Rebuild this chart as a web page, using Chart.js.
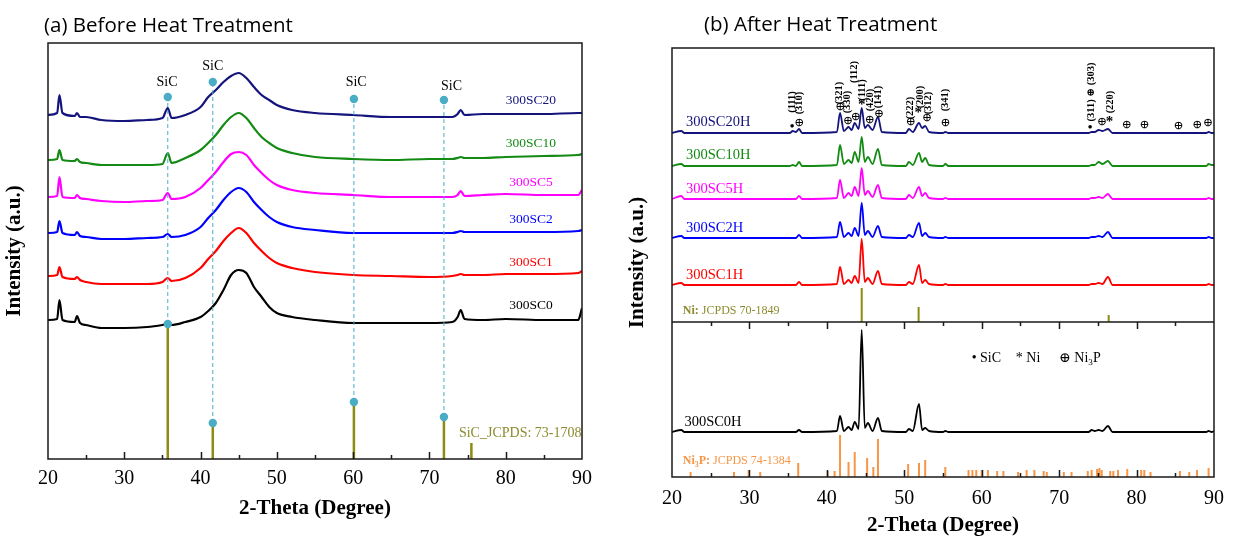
<!DOCTYPE html>
<html>
<head>
<meta charset="utf-8">
<script src="https://cdn.jsdelivr.net/npm/chart.js@4.4.1/dist/chart.umd.min.js"></script>
<style>
  html, body { margin: 0; padding: 0; background: #fff; }
  body { width: 1234px; height: 544px; position: relative; overflow: hidden; }
  canvas { position: absolute; top: 0; }
  #leftChart { left: 0; }
  #rightChart { left: 620px; }
  .title { position: absolute; font-family: "Open Sans", sans-serif; font-size: 20.5px; color: #000; white-space: nowrap; z-index: 2; }
</style>
</head>
<body>
<div class="title" style="left:44px; top:10px;">(a) Before Heat Treatment</div>
<div class="title" style="left:704px; top:9px;">(b) After Heat Treatment</div>
<canvas id="leftChart" width="620" height="544"></canvas>
<canvas id="rightChart" width="614" height="544"></canvas>
<script>
// ============================================================================
// DATA - panel (a), before heat treatment (arbitrary intensity, offset stack)
// ============================================================================

const thetaA = [20, 21.2, 21.5, 21.9, 23.5, 23.8, 24.2, 25, 27, 30, 33, 35, 35.7, 36.2, 38, 40, 41, 42, 43, 44,
                45, 46, 47, 48, 49, 50, 52, 55, 60, 65, 70, 73, 73.7, 74.1, 74.6, 77, 80, 85, 89.5, 90];
const sc0  = [139, 140, 159, 139, 137, 143, 136, 134, 131, 131, 132, 134, 135, 134, 137, 142, 148, 156, 169, 184,
              189, 186, 172, 162, 152, 146, 142, 139, 136, 136, 136, 137, 142, 149, 140, 139, 140, 139, 139, 151];
const sc1  = [183, 184, 192, 182, 180, 182, 179, 177, 175, 175, 175, 177, 181, 178, 181, 191, 200, 208, 218, 226,
              231, 226, 216, 208, 201, 196, 191, 187, 184, 183, 182, 183, 184, 185, 184, 184, 185, 185, 186, 188];
const sc2  = [226, 227, 238, 226, 224, 227, 223, 222, 220, 220, 221, 222, 225, 222, 224, 232, 241, 249, 259, 267,
              271, 267, 257, 249, 242, 237, 232, 229, 226, 226, 226, 226, 227, 228, 227, 227, 227, 227, 228, 229];
const sc5  = [262, 263, 282, 262, 261, 264, 261, 260, 258, 257, 258, 259, 266, 260, 262, 271, 279, 287, 297, 305,
              307, 304, 294, 286, 279, 274, 269, 266, 264, 262, 262, 262, 264, 268, 263, 264, 265, 264, 264, 269];
const sc10 = [299, 300, 309, 299, 298, 300, 297, 296, 294, 294, 294, 295, 306, 296, 301, 309, 316, 324, 334, 342,
              346, 341, 331, 322, 316, 311, 306, 302, 300, 299, 300, 300, 301, 302, 301, 301, 302, 303, 304, 305];
const sc20 = [344, 346, 364, 346, 343, 346, 342, 342, 339, 338, 339, 341, 351, 341, 344, 352, 362, 369, 377, 383,
              386, 381, 372, 364, 359, 354, 349, 346, 344, 342, 342, 342, 345, 349, 344, 345, 345, 345, 346, 346];

// SiC reference pattern (JCPDS 73-1708)
const sicTheta = [35.7, 41.6, 60.1, 71.9, 75.5];
const sicInt   = [135, 36, 57, 42, 16];
// SiC peak markers above the curves
const sicMarkTheta = [35.7, 41.6, 60.1, 71.9];
const sicMarkTop   = [362, 377, 360, 359];

// ============================================================================
// DATA - panel (b), after heat treatment
// ============================================================================

const thetaB = [20, 21.2, 21.6, 22.0, 35.2, 35.6, 36.0, 36.4, 36.8, 41.3, 41.7, 42.2, 42.8, 43.2, 43.6, 44.1, 44.5,
                44.9, 45.3, 45.9, 46.6, 47.1, 50.2, 50.6, 51.1, 51.9, 52.3, 52.7, 53.2, 55.0, 55.3, 55.7, 73.8, 74.2,
                74.6, 75.1, 75.6, 76.3, 76.9, 89.0, 89.3, 89.7, 90];
const sc20H = [344, 346, 344, 344, 344, 346, 345, 348, 344, 345, 364, 346, 350, 347, 354, 348, 369, 349, 352, 347,
               360, 345, 344, 348, 345, 354, 349, 351, 345, 344, 345, 344, 344, 345, 345, 347, 346, 348, 344, 344,
               345, 344, 344];
const sc10H = [311, 313, 311, 311, 311, 312, 311, 315, 311, 312, 332, 313, 317, 314, 325, 315, 340, 315, 320, 313,
               328, 312, 311, 315, 312, 324, 315, 319, 312, 311, 313, 311, 311, 312, 312, 315, 313, 316, 311, 311,
               313, 312, 312];
const sc5H  = [278, 281, 278, 278, 278, 278, 278, 281, 278, 279, 297, 279, 284, 281, 290, 281, 309, 282, 286, 280,
               292, 279, 278, 282, 279, 290, 281, 284, 279, 278, 279, 278, 278, 279, 279, 280, 279, 283, 278, 278,
               279, 278, 278];
const sc2H  = [239, 241, 239, 239, 239, 239, 239, 242, 239, 240, 255, 240, 244, 241, 249, 241, 274, 242, 246, 240,
               251, 240, 239, 242, 240, 254, 241, 244, 240, 239, 240, 239, 239, 240, 240, 241, 240, 245, 239, 239,
               240, 239, 239];
const sc1H  = [192, 194, 192, 192, 192, 192, 192, 195, 192, 193, 210, 193, 197, 194, 201, 194, 238, 195, 199, 193,
               206, 193, 192, 195, 193, 212, 194, 197, 193, 192, 193, 192, 192, 193, 193, 194, 193, 200, 192, 192,
               193, 192, 192];
const sc0H  = [45, 47, 45, 45, 45, 45, 45, 47, 45, 46, 61, 46, 50, 47, 55, 48, 147, 49, 54, 46,
               59, 46, 45, 48, 46, 73, 47, 49, 46, 45, 46, 45, 45, 47, 46, 47, 46, 51, 45, 45,
               46, 45, 46];

// Ni reference (JCPDS 70-1849), drawn from the divider line
const niBase  = 155;
const niTheta = [44.5, 51.85, 76.4];
const niInt   = [34, 15, 7];

// Ni3P reference (JCPDS 74-1384)
const ni3pTheta = [22.4, 28.0, 29.9, 31.4, 36.3, 40.1, 41.0, 41.7, 42.8, 43.6, 45.2, 46.0, 46.6, 50.5, 51.9, 52.7,
                   55.3, 58.3, 58.8, 59.3, 60.0, 60.8, 62.0, 62.8, 64.7, 65.8, 66.8, 68.0, 68.4, 70.6, 71.6, 73.7,
                   74.2, 74.9, 75.2, 75.5, 76.6, 77.0, 77.6, 78.8, 80.6, 81.0, 81.8, 85.6, 86.8, 87.8, 89.3];
const ni3pInt   = [5, 5, 7, 5, 14, 6, 6, 42, 15, 25, 19, 10, 38, 13, 14, 17,
                   10, 7, 7, 7, 7, 7, 6, 6, 5, 7, 7, 6, 5, 5, 5, 6,
                   7, 8, 9, 7, 6, 6, 7, 8, 7, 7, 5, 6, 5, 7, 9];

// ============================================================================
// COLOURS & FONTS
// ============================================================================

const SERIF = '"Liberation Serif", "Times New Roman", "DejaVu Serif", serif';
const COL = {
    navy: '#14147c', green: '#138a13', magenta: '#ff00ff', blue: '#0000ff', red: '#ff0000', black: '#000000',
    olive: '#8c8c12', oliveText: '#8b8b2e', cyan: '#4bacc6', orange: '#f79646'
};

// ============================================================================
// LABELS (anchored in data units: [2-theta, intensity])
// ============================================================================

const leftSeriesLabels = [
    ['300SC20', 83.3, 359, COL.navy], ['300SC10', 83.3, 316, COL.green], ['300SC5', 83.3, 277, COL.magenta],
    ['300SC2', 83.3, 240, COL.blue], ['300SC1', 83.3, 197, COL.red], ['300SC0', 83.3, 154, COL.black]
];
const sicLabels = [[35.6, 377], [41.6, 393], [60.4, 377], [72.9, 373]];

const rightSeriesLabels = [
    ['300SC20H', 21.8, 355, COL.navy], ['300SC10H', 21.8, 322, COL.green], ['300SC5H', 21.8, 288, COL.magenta],
    ['300SC2H', 21.8, 249, COL.blue], ['300SC1H', 21.8, 202, COL.red], ['300SC0H', 21.6, 55, COL.black]
];

// rotated (hkl) labels and phase symbols over 300SC20H
const hklLabels = [
    ['(111)', 35.5, 375], ['(310)', 36.5, 374], ['(321)', 41.6, 384], ['(330)', 42.6, 375],
    ['(112)', 43.5, 405], ['(111)', 44.6, 387], ['(420)', 45.6, 377], ['(141)', 46.7, 380],
    ['(222)', 50.8, 369], ['(200)', 52.1, 380], ['(312)', 53.1, 374], ['(341)', 55.3, 377],
    ['(311) \u2295 (303)', 74.1, 385], ['(220)', 76.6, 375]
];
const phaseSymbols = [
    ['\u2022', 35.5, 350], ['\u2295', 36.4, 354], ['\u2295', 41.7, 370], ['\u2295', 42.7, 356],
    ['\u2295', 43.7, 360], ['*', 44.5, 372], ['\u2295', 45.5, 357], ['\u2295', 46.7, 363],
    ['\u2295', 50.8, 355], ['*', 51.8, 364], ['\u2295', 52.9, 359], ['\u2295', 55.3, 354],
    ['\u2022', 74.0, 349], ['\u2295', 75.5, 355], ['*', 76.5, 355], ['\u2295', 78.7, 352],
    ['\u2295', 81.0, 352], ['\u2295', 85.4, 351], ['\u2295', 87.8, 352], ['\u2295', 89.2, 354]
];

// ============================================================================
// HELPERS
// ============================================================================

const series = (theta, vals) => theta.map((t, i) => ({ x: t, y: vals[i] }));

function sticks(theta, heights, base) {
    const pts = [];
    theta.forEach((t, i) => {
        pts.push({ x: t, y: base }, { x: t, y: base + heights[i] }, { x: t, y: null });
    });
    return pts;
}

const lineSet = (data, color, width) => ({
    data, showLine: true, borderColor: color, borderWidth: width, pointRadius: 0,
    cubicInterpolationMode: 'monotone', spanGaps: false
});

// draws [{t, bold, sub}] segments one after another
function drawRich(ctx, segs, x, y, size, color, align) {
    const fontOf = s => `${s.bold ? 'bold ' : ''}${s.sub ? size * 0.65 : size}px ${SERIF}`;
    let total = 0;
    segs.forEach(s => { ctx.font = fontOf(s); total += ctx.measureText(s.t).width; });
    let cx = align === 'center' ? x - total / 2 : (align === 'right' ? x - total : x);
    ctx.fillStyle = color;
    ctx.textAlign = 'left';
    ctx.textBaseline = 'middle';
    segs.forEach(s => {
        ctx.font = fontOf(s);
        ctx.fillText(s.t, cx, s.sub ? y + size * 0.3 : y);
        cx += ctx.measureText(s.t).width;
    });
}

function drawBoxAndTicks(chart, extraLines) {
    const { ctx, chartArea: a, scales: { x, y } } = chart;
    ctx.save();
    ctx.strokeStyle = '#1a1a1a';
    ctx.lineWidth = 1.5;
    ctx.strokeRect(a.left, a.top, a.right - a.left, a.bottom - a.top);
    ctx.beginPath();
    const tickRow = (yPix, dir) => {
        for (let v = 25; v <= 85; v += 5) {
            const px = Math.round(x.getPixelForValue(v)) + 0.5;
            ctx.moveTo(px, yPix);
            ctx.lineTo(px, yPix - dir * (v % 10 === 0 ? 7 : 4));
        }
    };
    tickRow(a.bottom, 1);
    (extraLines || []).forEach(val => {
        const py = y.getPixelForValue(val);
        ctx.moveTo(a.left, py);
        ctx.lineTo(a.right, py);
        tickRow(py, -1);
    });
    ctx.stroke();
    ctx.restore();
}

// ============================================================================
// PANEL (a)
// ============================================================================

const leftDecor = {
    id: 'leftDecor',
    afterDraw(chart) {
        const { ctx, scales: { x, y } } = chart;
        drawBoxAndTicks(chart);
        ctx.save();
        ctx.textAlign = 'center';
        ctx.textBaseline = 'middle';
        ctx.font = `14px ${SERIF}`;
        ctx.fillStyle = '#000';
        sicLabels.forEach(([t, v]) => ctx.fillText('SiC', x.getPixelForValue(t), y.getPixelForValue(v)));
        ctx.font = `13.5px ${SERIF}`;
        leftSeriesLabels.forEach(([txt, t, v, c]) => {
            ctx.fillStyle = c;
            ctx.fillText(txt, x.getPixelForValue(t), y.getPixelForValue(v));
        });
        drawRich(ctx, [{ t: 'SiC_JCPDS: 73-1708' }], x.getPixelForValue(81.9), y.getPixelForValue(26), 14, COL.oliveText, 'center');
        ctx.restore();
    }
};

const leftSets = [
    lineSet(series(thetaA, sc20), COL.navy, 2.2),
    lineSet(series(thetaA, sc10), COL.green, 2.2),
    lineSet(series(thetaA, sc5), COL.magenta, 2.2),
    lineSet(series(thetaA, sc2), COL.blue, 2.2),
    lineSet(series(thetaA, sc1), COL.red, 2.2),
    lineSet(series(thetaA, sc0), COL.black, 2.2)
];
sicMarkTheta.forEach((t, i) => {
    leftSets.unshift({
        data: [{ x: t, y: sicInt[sicTheta.indexOf(t)] }, { x: t, y: sicMarkTop[i] }],
        showLine: true, borderColor: COL.cyan, borderWidth: 1, borderDash: [4, 3],
        pointRadius: 4.2, pointBackgroundColor: COL.cyan, pointBorderWidth: 0
    });
});
leftSets.push({ data: sticks(sicTheta, sicInt, 0), showLine: true, borderColor: COL.olive, borderWidth: 2.5, pointRadius: 0, spanGaps: false });

const serifFont = (size, bold) => ({ family: SERIF, size, weight: bold ? 'bold' : 'normal' });

function axes(yMax, xHeight, yWidth, titleBottom, yTitleTop, tickPad) {
    return {
        x: {
            type: 'linear', min: 20, max: 90,
            ticks: { stepSize: 10, color: '#000', font: serifFont(20), padding: tickPad, maxRotation: 0 },
            grid: { display: false, drawTicks: false }, border: { display: false },
            title: { display: true, text: '2-Theta (Degree)', color: '#000', font: serifFont(21, true), padding: { top: 0, bottom: titleBottom } },
            afterFit: s => { s.height = xHeight; }
        },
        y: {
            min: 0, max: yMax,
            ticks: { display: false }, grid: { display: false, drawTicks: false }, border: { display: false },
            title: { display: true, text: 'Intensity (a.u.)', color: '#000', font: serifFont(21, true), padding: { top: yTitleTop, bottom: 0 } },
            afterFit: s => { s.width = yWidth; }
        }
    };
}

new Chart(document.getElementById('leftChart'), {
    type: 'scatter',
    data: { datasets: leftSets },
    options: {
        responsive: false, animation: false, events: [],
        layout: { padding: { top: 43, right: 38, left: 0, bottom: 0 } },
        plugins: { legend: { display: false }, tooltip: { enabled: false } },
        scales: axes(416, 85, 48, 23, 1.5, 8)
    },
    plugins: [leftDecor]
});

// ============================================================================
// PANEL (b)
// ============================================================================

const rightDecor = {
    id: 'rightDecor',
    afterDraw(chart) {
        const { ctx, scales: { x, y } } = chart;
        drawBoxAndTicks(chart, [niBase]);
        ctx.save();
        ctx.textBaseline = 'middle';
        ctx.font = `14.5px ${SERIF}`;
        ctx.textAlign = 'left';
        rightSeriesLabels.forEach(([txt, t, v, c]) => {
            ctx.fillStyle = c;
            ctx.fillText(txt, x.getPixelForValue(t), y.getPixelForValue(v));
        });
        const x0 = x.getPixelForValue(21.4);
        drawRich(ctx, [{ t: 'Ni:', bold: true }, { t: ' JCPDS 70-1849' }], x0, y.getPixelForValue(166), 12, COL.oliveText, 'left');
        drawRich(ctx, [{ t: 'Ni', bold: true }, { t: '3', bold: true, sub: true }, { t: 'P:', bold: true }, { t: ' JCPDS 74-1384' }],
            x0, y.getPixelForValue(16), 12, COL.orange, 'left');

        // phase legend
        const ly = y.getPixelForValue(119);
        drawRich(ctx, [{ t: '\u2022 SiC' }], x.getPixelForValue(58.7), ly, 14, '#000', 'left');
        drawRich(ctx, [{ t: '* Ni' }], x.getPixelForValue(64.4), ly, 14, '#000', 'left');
        drawRich(ctx, [{ t: '\u2295 Ni' }, { t: '3', sub: true }, { t: 'P' }], x.getPixelForValue(70.0), ly, 14, '#000', 'left');

        // peak annotations
        ctx.fillStyle = '#000';
        ctx.textAlign = 'center';
        ctx.font = `bold 10.5px ${SERIF}`;
        hklLabels.forEach(([txt, t, v]) => {
            ctx.save();
            ctx.translate(x.getPixelForValue(t), y.getPixelForValue(v));
            ctx.rotate(-Math.PI / 2);
            ctx.fillText(txt, 0, 0);
            ctx.restore();
        });
        phaseSymbols.forEach(([s, t, v]) => {
            ctx.font = s === '*' ? `bold 15px ${SERIF}` : (s === '\u2022' ? `15px ${SERIF}` : `12px ${SERIF}`);
            ctx.fillText(s, x.getPixelForValue(t), y.getPixelForValue(v));
        });
        ctx.restore();
    }
};

const rightSets = [
    lineSet(series(thetaB, sc20H), COL.navy, 1.8),
    lineSet(series(thetaB, sc10H), COL.green, 1.8),
    lineSet(series(thetaB, sc5H), COL.magenta, 1.8),
    lineSet(series(thetaB, sc2H), COL.blue, 1.8),
    lineSet(series(thetaB, sc1H), COL.red, 1.8),
    lineSet(series(thetaB, sc0H), COL.black, 1.8),
    { data: sticks(niTheta, niInt, niBase), showLine: true, borderColor: COL.olive, borderWidth: 2, pointRadius: 0, spanGaps: false },
    { data: sticks(ni3pTheta, ni3pInt, 0), showLine: true, borderColor: COL.orange, borderWidth: 2, pointRadius: 0, spanGaps: false }
];

new Chart(document.getElementById('rightChart'), {
    type: 'scatter',
    data: { datasets: rightSets },
    options: {
        responsive: false, animation: false, events: [],
        layout: { padding: { top: 48, right: 16, left: 0, bottom: 0 } },
        plugins: { legend: { display: false }, tooltip: { enabled: false } },
        scales: axes(429, 67, 52, 6, 5, 10)
    },
    plugins: [rightDecor]
});
</script>
</body>
</html>
